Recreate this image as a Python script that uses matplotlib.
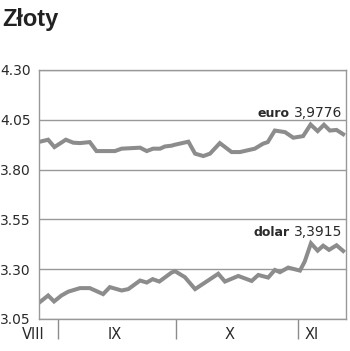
import matplotlib.pyplot as plt

# dni liczone od 1 września
euro_dni = [-4.6, -2.5, -0.9, 2.0, 3.9, 5.6, 8.1, 9.8, 14.5, 16.2, 20.9, 22.6, 24.2, 26.0,
            27.2, 28.9, 29.8, 33.2, 34.9, 37.0, 38.7, 41.2, 44.2, 46.3, 50.1, 52.2, 53.4,
            55.2, 57.8, 59.9, 62.4, 64.3, 66.1, 67.7, 69.2, 70.9, 72.6]
euro = [3.940, 3.950, 3.913, 3.950, 3.935, 3.933, 3.938, 3.893, 3.893, 3.905, 3.910, 3.893,
        3.905, 3.905, 3.916, 3.920, 3.925, 3.940, 3.880, 3.868, 3.880, 3.933, 3.888, 3.888,
        3.905, 3.930, 3.938, 3.996, 3.988, 3.960, 3.968, 4.026, 3.993, 4.025, 3.996, 3.999,
        3.9776]

dolar_dni = [-4.6, -2.5, -1.0, 0.9, 2.6, 5.6, 8.1, 11.5, 13.2, 16.2, 17.9, 20.9, 22.6, 24.1,
             25.8, 28.9, 29.8, 32.3, 34.9, 40.8, 42.5, 45.9, 49.3, 51.0, 53.5, 55.2, 56.5,
             58.6, 61.6, 62.8, 64.4, 66.1, 67.5, 69.0, 70.9, 72.6]
dolar = [3.135, 3.168, 3.138, 3.168, 3.187, 3.205, 3.205, 3.175, 3.210, 3.193, 3.200, 3.243,
         3.233, 3.250, 3.238, 3.283, 3.290, 3.260, 3.200, 3.277, 3.238, 3.266, 3.241, 3.271,
         3.258, 3.296, 3.285, 3.308, 3.293, 3.338, 3.430, 3.393, 3.418, 3.397, 3.420, 3.3915]

y_ticks = [3.05, 3.30, 3.55, 3.80, 4.05, 4.30]
y_labels = ['3.05', '3.30', '3.55', '3.80', '4.05', '4.30']
granice_miesiecy = [0, 30, 61]
miesiace = ['VIII', 'IX', 'X', 'XI']
miesiace_x = [-6.4, 14.5, 43.8, 64.6]

szary = '#8c8c8c'
tekst = '#2a2a2a'

fig = plt.figure(figsize=(3.5, 3.51), dpi=100)
ax = fig.add_axes([0.1114, 0.0912, 0.877, 0.7094])

ax.plot(euro_dni, euro, color=szary, lw=2.9, solid_joinstyle='miter')
ax.plot(dolar_dni, dolar, color=szary, lw=2.9, solid_joinstyle='miter')

ax.set_xlim(-4.83, 73.3)
ax.set_ylim(3.05, 4.30)

ax.set_yticks(y_ticks)
ax.set_yticklabels(y_labels, fontsize=10, color=tekst)
ax.tick_params(axis='y', length=0, pad=6)
ax.grid(axis='y', color='#999999', lw=1)

ax.set_xticks(granice_miesiecy)
ax.set_xticklabels([])
ax.tick_params(axis='x', length=14.5, width=1, color=szary, direction='out')

for s in ax.spines.values():
    s.set_color('#999999')
    s.set_linewidth(1)

for m, x in zip(miesiace, miesiace_x):
    ax.text(x, -0.064, m, transform=ax.get_xaxis_transform(), ha='center', va='center',
            fontsize=10.5, color=tekst, clip_on=False)

# podpisy serii
for nazwa, wartosc, y in [('euro', '3,9776', 4.0615), ('dolar', '3,3915', 3.4665)]:
    t = ax.text(72.4, y, wartosc, ha='right', va='baseline', fontsize=10, color=tekst,
                fontweight='medium')
    ax.annotate(nazwa, xy=(0, 0), xycoords=t, xytext=(-3, 0), textcoords='offset points',
                ha='right', va='bottom', fontsize=9, fontweight='bold', color=tekst)

fig.text(0.006, 0.925, 'Złoty', fontsize=17, fontweight='bold', color='#222222',
         family='Liberation Sans', ha='left', va='baseline')

fig.savefig('out.png', dpi=100)
